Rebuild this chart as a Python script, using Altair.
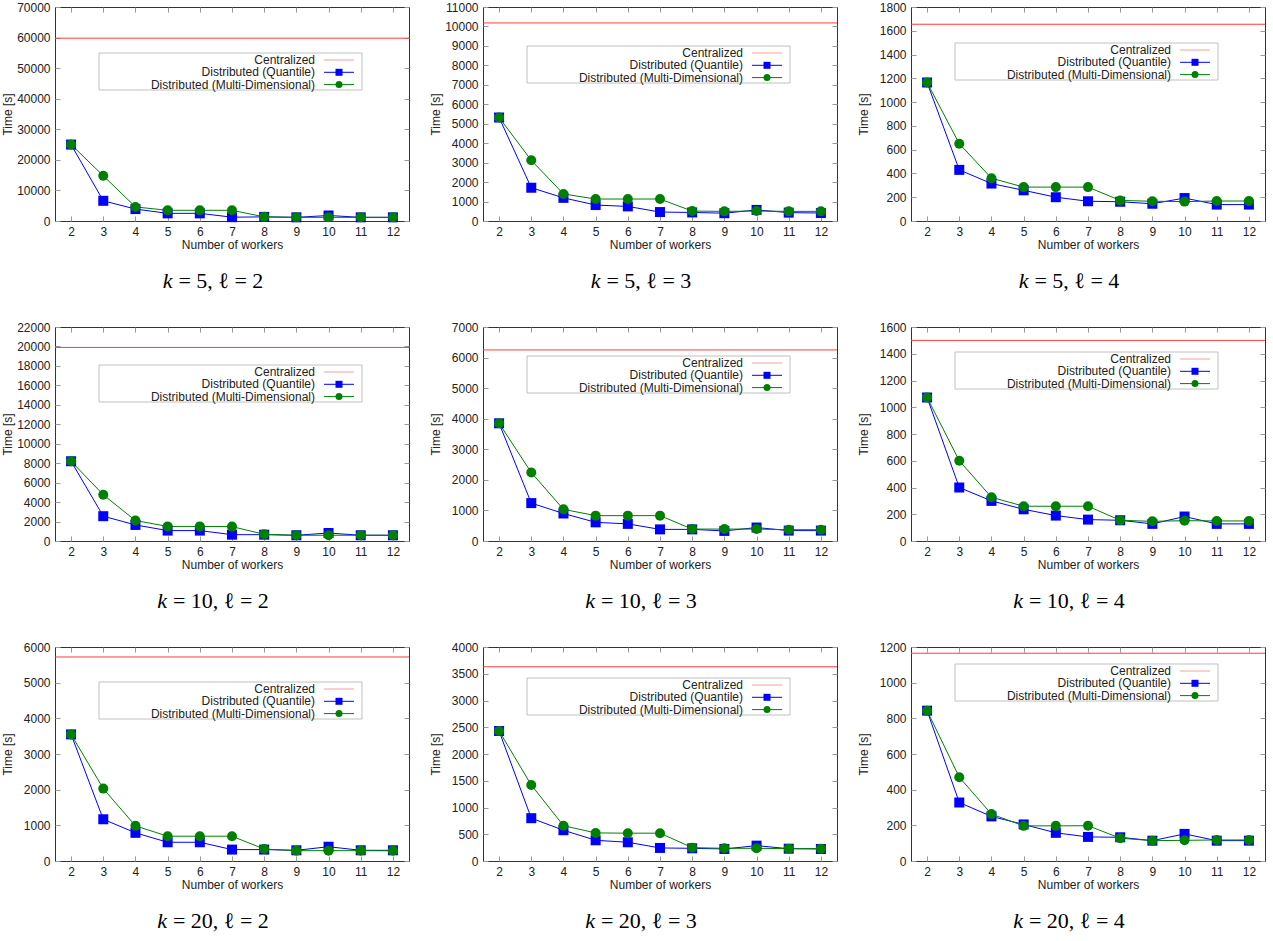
import altair as alt
import pandas as pd

# ---------------- data ----------------
workers = [2, 3, 4, 5, 6, 7, 8, 9, 10, 11, 12]

k_values = [5, 5, 5, 10, 10, 10, 20, 20, 20]
l_values = [2, 3, 4, 2, 3, 4, 2, 3, 4]

centralized = [59800, 10180, 1655, 19900, 6250, 1500, 5720, 3630, 1165]

quantile = [
    [25000, 6600, 3900, 2500, 2500, 1250, 1350, 1200, 1800, 1200, 1200],
    [5320, 1710, 1190, 820, 750, 460, 440, 400, 570, 430, 410],
    [1165, 430, 315, 258, 200, 166, 162, 145, 193, 138, 138],
    [8200, 2550, 1650, 1070, 1070, 650, 650, 590, 820, 590, 590],
    [3850, 1240, 900, 610, 560, 380, 380, 330, 440, 340, 340],
    [1073, 400, 300, 237, 190, 160, 155, 128, 183, 128, 128],
    [3550, 1170, 790, 525, 525, 320, 320, 300, 400, 300, 300],
    [2430, 800, 575, 387, 350, 244, 237, 225, 287, 230, 225],
    [843, 328, 250, 205, 158, 135, 133, 114, 152, 114, 114],
]

multidim = [
    [25000, 14800, 4600, 3500, 3500, 3500, 1350, 1200, 1200, 1200, 1200],
    [5320, 3120, 1390, 1130, 1130, 1130, 510, 495, 510, 495, 495],
    [1165, 650, 360, 285, 285, 285, 173, 166, 163, 168, 168],
    [8200, 4750, 2100, 1500, 1500, 1480, 690, 590, 590, 590, 590],
    [3850, 2240, 1035, 830, 830, 830, 390, 390, 390, 370, 370],
    [1073, 600, 327, 260, 260, 260, 155, 147, 152, 150, 150],
    [3550, 2030, 985, 695, 695, 695, 335, 290, 290, 290, 285],
    [2430, 1420, 660, 525, 520, 520, 250, 237, 237, 231, 231],
    [843, 470, 263, 197, 197, 198, 128, 114, 116, 118, 118],
]

y_max = [70000, 11000, 1800, 22000, 7000, 1600, 6000, 4000, 1200]
y_step = [10000, 1000, 200, 2000, 1000, 200, 1000, 500, 200]

series_names = ["Centralized", "Distributed (Quantile)", "Distributed (Multi-Dimensional)"]

# ---------------- style ----------------
W, H = 354, 214
SANS = "Liberation Sans"
SERIF = "Liberation Serif"
TXT = "#222222"
RED, BLUE, GREEN = "#ff3b3b", "#0000ff", "#008000"
legend_top = [46, 39, 36, 38, 29, 25, 35, 31, 17]
LEG_LEFT = 44
TITLE_CENTER = 162
TITLE_FS = 22


def one(**kw):
    return pd.DataFrame({k: [v] for k, v in kw.items()})


def panel(i):
    df = pd.DataFrame({
        "workers": workers * 2,
        "time": quantile[i] + multidim[i],
        "series": [series_names[1]] * len(workers) + [series_names[2]] * len(workers),
    })
    x = alt.X(
        "workers:Q",
        scale=alt.Scale(domain=[1.5, 12.5], nice=False, zero=False),
        axis=alt.Axis(
            values=workers, title="Number of workers", domain=False, ticks=False,
            labelPadding=5, labelFont=SANS, labelFontSize=12, labelColor=TXT,
            titleFont=SANS, titleFontSize=12, titleColor=TXT, titleFontWeight="normal",
            titlePadding=2,
            grid=True, gridColor="#999999", gridDash=[5, H - 10], gridOpacity=1,
        ),
    )
    y = alt.Y(
        "time:Q",
        scale=alt.Scale(domain=[0, y_max[i]], nice=False, zero=True),
        axis=alt.Axis(
            values=list(range(0, y_max[i] + 1, y_step[i])), format="d", title="Time [s]",
            domain=False, ticks=False, labelPadding=5,
            labelFont=SANS, labelFontSize=12, labelColor=TXT,
            titleFont=SANS, titleFontSize=12, titleColor=TXT, titleFontWeight="normal",
            titlePadding=4, minExtent=37, maxExtent=37,
            grid=True, gridColor="#999999", gridDash=[5, W - 10], gridOpacity=1,
        ),
    )
    color = alt.Color("series:N", scale=alt.Scale(domain=series_names[1:], range=[BLUE, GREEN]), legend=None)
    shape = alt.Shape("series:N", scale=alt.Scale(domain=series_names[1:], range=["square", "circle"]), legend=None)

    cent = alt.Chart(one(time=centralized[i])).mark_rule(color=RED, strokeWidth=1).encode(y=y)
    lines = alt.Chart(df).mark_line(strokeWidth=1).encode(x=x, y=y, color=color)
    pts = alt.Chart(df).mark_point(filled=True, size=100, opacity=1).encode(x=x, y=y, color=color, shape=shape)

    lt = legend_top[i]
    lx = LEG_LEFT
    frame = alt.Chart(one(a=0)).mark_rect(fill="white", stroke="#c0c0c0", strokeWidth=1).encode(
        x=alt.value(lx), x2=alt.value(lx + 263), y=alt.value(lt), y2=alt.value(lt + 37))
    layers = [cent, lines, pts, frame]
    cols = [("#f5a0a0", None), (BLUE, "square"), (GREEN, "circle")]
    for r, (name, (c, shp)) in enumerate(zip(series_names, cols)):
        ry = lt + 7 + 12.3 * r
        layers.append(alt.Chart(one(label=name)).mark_text(
            align="right", baseline="middle", font=SANS, fontSize=12, color=TXT
        ).encode(text="label:N", x=alt.value(lx + 216), y=alt.value(ry)))
        layers.append(alt.Chart(one(a=0)).mark_rule(color=c, strokeWidth=1).encode(
            x=alt.value(lx + 225), x2=alt.value(lx + 255), y=alt.value(ry)))
        if shp:
            layers.append(alt.Chart(one(a=0)).mark_point(
                shape=shp, filled=True, size=49, opacity=1, color=c
            ).encode(x=alt.value(lx + 240), y=alt.value(ry)))

    # panel caption below the axis: italic k, upright rest
    rest = f"= {k_values[i]}, ℓ = {l_values[i]}"
    k_w = 0.444 * TITLE_FS
    gap = 0.27 * TITLE_FS
    total = k_w + gap + (2.2 + 0.5 * len(str(k_values[i])) + 1.02 + 0.5) * TITLE_FS
    anchor = TITLE_CENTER - total / 2 + k_w
    ty = H + 67
    layers.append(alt.Chart(one(t="k")).mark_text(
        align="right", baseline="alphabetic", font=SERIF, fontSize=TITLE_FS, fontStyle="italic", color="black"
    ).encode(text="t:N", x=alt.value(anchor), y=alt.value(ty)))
    layers.append(alt.Chart(one(t=rest)).mark_text(
        align="left", baseline="alphabetic", font=SERIF, fontSize=TITLE_FS, color="black"
    ).encode(text="t:N", x=alt.value(anchor + gap), y=alt.value(ty)))

    return alt.layer(*layers).properties(width=W, height=H)


rows = [alt.hconcat(*[panel(3 * r + c) for c in range(3)], spacing=18) for r in range(3)]
chart = alt.vconcat(*rows, spacing=27).properties(
    padding={"left": 0, "top": 0, "right": 0, "bottom": 0}
).configure_view(stroke="#333333", strokeWidth=1)

chart.save("out.html", embed_options={"renderer": "svg", "actions": False})
